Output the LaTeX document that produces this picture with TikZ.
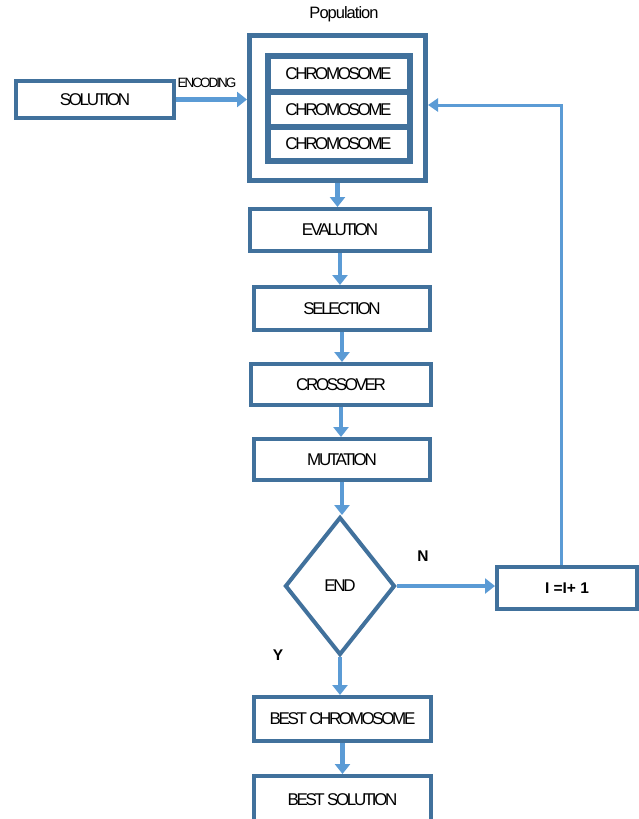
\documentclass[tikz,border=0pt]{standalone}
\usepackage{fontspec}
\setmainfont{Liberation Sans}
\newfontfamily\lab[LetterSpace=-14]{Liberation Sans}
\newfontfamily\labb[LetterSpace=-15]{Liberation Sans}
\newfontfamily\labp[LetterSpace=-6]{Liberation Sans}
\usetikzlibrary{shapes.geometric,arrows.meta}
\definecolor{bdr}{HTML}{41719C}
\definecolor{arr}{HTML}{5B9BD5}
\begin{document}
\begin{tikzpicture}[x=1pt,y=-1pt,
  box/.style={draw=bdr, line width=4pt, fill=white, inner sep=0pt, font=\lab\fontsize{17}{17}\selectfont},
  flow/.style={draw=arr, line width=4.5pt, -{Triangle[width=15pt,length=10pt]}},
  thinflow/.style={draw=arr, line width=3pt, -{Triangle[width=13pt,length=10pt]}},
  plain/.style={inner sep=0pt}]
\clip (0,0) rectangle (639,819);
\fill[white] (0,0) rectangle (639,819);
% population
\node[plain, font=\labp\fontsize{16.5}{16.5}\selectfont] (poptitle) at (344,14) {Population};
\node[box, line width=5pt, minimum width=176pt, minimum height=145pt] (pop) at (337.5,108) {};
\node[box, line width=6pt, minimum width=142pt, minimum height=37pt] (c1) at (338.5,74) {CHROMOSOME};
\node[box, line width=6pt, minimum width=142pt, minimum height=36pt] (c2) at (338.5,109.5) {CHROMOSOME};
\node[box, line width=6pt, minimum width=142pt, minimum height=34pt] (c3) at (338.5,144) {CHROMOSOME};
% solution
\node[box, minimum width=158pt, minimum height=37pt] (sol) at (95,99.5) {SOLUTION};
\node[plain, font=\labb\fontsize{13.5}{13.5}\selectfont] (enc) at (207,83) {ENCODING};
% chain
\node[box, minimum width=180pt, minimum height=42pt] (eval) at (340,230) {EVALUTION};
\node[box, minimum width=176pt, minimum height=43pt] (sel) at (342,308.5) {SELECTION};
\node[box, minimum width=180pt, minimum height=41pt] (cross) at (341,384.5) {CROSSOVER};
\node[box, minimum width=176pt, minimum height=41pt] (mut) at (342,459.5) {MUTATION};
\node[box, diamond, aspect=0.8, minimum width=110pt, minimum height=138pt] (endd) at (340,586) {END};
\node[box, minimum width=140pt, minimum height=42pt, font=\fontsize{15.5}{15.5}\selectfont\bfseries] (inc) at (567,588) {I =I+ 1};
\node[box, minimum width=177pt, minimum height=44pt] (bc) at (342.5,719) {BEST CHROMOSOME};
\node[box, minimum width=177pt, minimum height=48pt] (bs) at (342.5,800) {BEST SOLUTION};
\node[plain, font=\fontsize{15.5}{15.5}\selectfont\bfseries] (nlab) at (423,556) {N};
\node[plain, font=\fontsize{15.5}{15.5}\selectfont\bfseries] (ylab) at (278,655) {Y};
% connectors
\draw[flow] (sol.east) -- (sol.east -| pop.west);
\draw[flow] (pop.south) -- (pop.south |- eval.north);
\draw[flow] (eval.south) -- (eval.south |- sel.north);
\draw[flow] (sel.south) -- (sel.south |- cross.north);
\draw[flow] (cross.south) -- (cross.south |- mut.north);
\draw[flow] (mut.south) -- (mut.south |- endd.north);
\draw[flow] (endd.south) -- (endd.south |- bc.north);
\draw[flow] (bc.south) -- (bc.south |- bs.north);
\draw[flow] (endd.east) -- (endd.east -| inc.west);
\coordinate (fbturn) at (561,105);
\draw[thinflow] (inc.north -| fbturn) -- (fbturn) -- (fbturn -| pop.east);
\end{tikzpicture}
\end{document}
